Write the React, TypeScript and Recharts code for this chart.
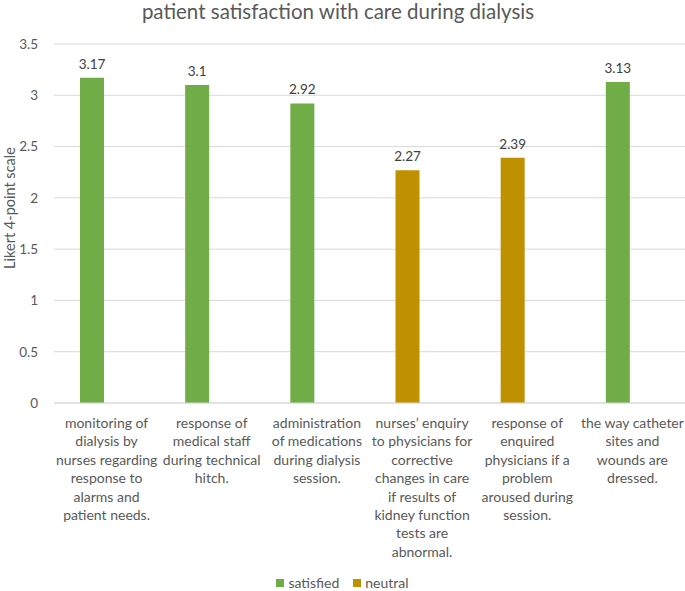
import React from "react";
import { BarChart, Bar, XAxis, YAxis, CartesianGrid, Legend, LabelList } from "recharts";

const categories = [
  "monitoring of\ndialysis by\nnurses regarding\nresponse to\nalarms and\npatient needs.",
  "response of\nmedical staff\nduring technical\nhitch.",
  "administration\nof medications\nduring dialysis\nsession.",
  "nurses’ enquiry\nto physicians for\ncorrective\nchanges in care\nif results of\nkidney function\ntests are\nabnormal.",
  "response of\nenquired\nphysicians if a\nproblem\naroused during\nsession.",
  "the way catheter\nsites and\nwounds are\ndressed.",
];
const satisfied: (number | null)[] = [3.17, 3.1, 2.92, null, null, 3.13];
const neutral: (number | null)[] = [null, null, null, 2.27, 2.39, null];
const yTicks = [0, 0.5, 1, 1.5, 2, 2.5, 3, 3.5];

const data = categories.map((name, i) => ({
  name,
  satisfied: satisfied[i],
  neutral: neutral[i],
  pad: null,
}));

const FONT = "Lato, 'Open Sans', sans-serif";
const GREEN = "#70AD47";
const GOLD = "#BF9000";

const XTick = (props: any) => {
  const { x, y, payload } = props;
  const lines = String(payload.value).split("\n");
  return (
    <text x={x} y={y} textAnchor="middle" fill="#595959" fontSize={14} fontFamily={FONT}>
      {lines.map((l, i) => (
        <tspan key={i} x={x} dy={i === 0 ? 25 : 18.4}>
          {l}
        </tspan>
      ))}
    </text>
  );
};

const ValueLabel = (props: any) => {
  const { x, y, width, value } = props;
  if (value === null || value === undefined) return null;
  return (
    <text x={x + width / 2} y={y - 9} textAnchor="middle" fill="#404040" fontSize={13.5} fontFamily={FONT}>
      {value}
    </text>
  );
};

const YLabel = () => (
  <text
    x={15}
    y={208}
    transform="rotate(-90 15 208)"
    textAnchor="middle"
    fill="#595959"
    fontSize={14.5}
    fontFamily={FONT}
  >
    Likert 4-point scale
  </text>
);

const LegendContent = () => (
  <div style={{ height: 20, display: "flex", justifyContent: "center", alignItems: "center", paddingTop: 3, boxSizing: "border-box", fontFamily: FONT, fontSize: 14, color: "#595959" }}>
    <span style={{ display: "inline-block", width: 8, height: 8, background: GREEN, marginRight: 4 }} />
    <span style={{ marginRight: 14 }}>satisfied</span>
    <span style={{ display: "inline-block", width: 8, height: 8, background: GOLD, marginRight: 4 }} />
    <span>neutral</span>
  </div>
);

export default function App() {
  return (
    <div style={{ position: "absolute", left: 0, top: 0, width: 685, height: 591, background: "#fff", overflow: "hidden" }}>
      <div
        style={{
          position: "absolute",
          left: 0,
          top: -3,
          width: 676,
          textAlign: "center",
          fontFamily: FONT,
          fontSize: 20.5,
          lineHeight: "28px",
          color: "#595959",
        }}
      >
        patient satisfaction with care during dialysis
      </div>
      <BarChart
        width={685}
        height={591}
        data={data}
        margin={{ top: 44, right: 0, left: 0, bottom: 0 }}
        barSize={24}
        barGap={6}
      >
        <CartesianGrid vertical={false} stroke="#d9d9d9" />
        <XAxis
          dataKey="name"
          interval={0}
          height={168}
          tickLine={false}
          tickSize={0}
          tickMargin={0}
          axisLine={{ stroke: "#d9d9d9" }}
          tick={<XTick />}
        />
        <YAxis
          width={54}
          domain={[0, 3.5]}
          ticks={yTicks}
          axisLine={false}
          tickLine={false}
          tickSize={0}
          tickMargin={16}
          tick={{ fill: "#595959", fontSize: 13.5, fontFamily: FONT }}
          label={<YLabel />}
        />
        <Legend verticalAlign="bottom" content={<LegendContent />} />
        <Bar dataKey="satisfied" name="satisfied" stackId="a" fill={GREEN} isAnimationActive={false}>
          <LabelList dataKey="satisfied" content={<ValueLabel />} />
        </Bar>
        <Bar dataKey="neutral" name="neutral" stackId="a" fill={GOLD} isAnimationActive={false}>
          <LabelList dataKey="neutral" content={<ValueLabel />} />
        </Bar>
        <Bar dataKey="pad" stackId="b" fill="transparent" legendType="none" isAnimationActive={false} />
      </BarChart>
    </div>
  );
}
